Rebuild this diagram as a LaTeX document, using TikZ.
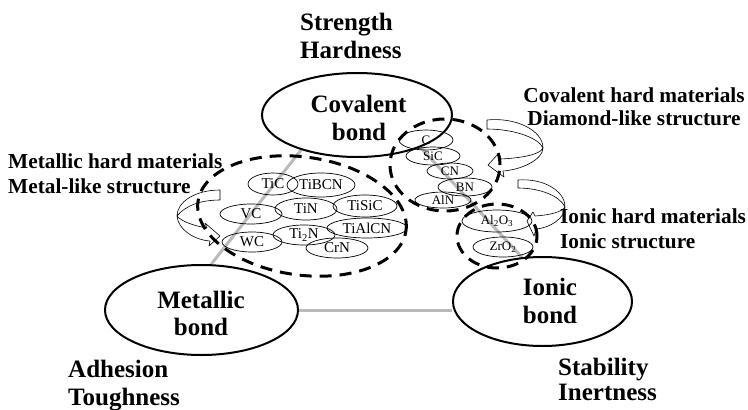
\documentclass[tikz,border=0pt]{standalone}
\usepackage{fontspec}
\setmainfont{Liberation Serif}
\usetikzlibrary{shapes.geometric}
\pgfdeclarelayer{bg}
\pgfsetlayers{bg,main}
\begin{document}
\begin{tikzpicture}[x=1pt,y=-1pt,
  bond/.style={ellipse, draw, line width=2pt, inner sep=0pt},
  chem/.style={ellipse, draw, line width=0.7pt, inner sep=0pt, font=\fontsize{15}{15}\selectfont},
  chems/.style={chem, font=\fontsize{13}{13}\selectfont},
  grouping/.style={ellipse, draw, line width=3pt, dash pattern=on 12pt off 8pt, inner sep=0pt},
  link/.style={draw=black!27, line width=3pt},
  turn/.style={draw, fill=white, line width=0.6pt, line join=round},
  prop/.style={font=\bfseries\fontsize{25}{28}\selectfont, inner sep=0pt},
  cls/.style={font=\bfseries\fontsize{21.3}{24}\selectfont, inner sep=0pt}]

\useasboundingbox (0,0) rectangle (748,410);

% bond ellipses
\node[bond, minimum width=190pt, minimum height=84pt] (cov) at (357,115) {};
\node[bond, minimum width=193pt, minimum height=90pt] (met) at (201.5,310) {};
\node[bond, minimum width=179pt, minimum height=89pt] (ion) at (542.5,301.5) {};

% curved arrows
\path[turn] (487,120) .. controls (515,117) and (543,130) .. (543,148)
  .. controls (543,160) and (520,170) .. (503,171) -- (504,177) -- (488,165)
  -- (499,153) -- (501,159) .. controls (520,158) and (540,155) .. (543,148)
  .. controls (538,137) and (512,129) .. (487,129) -- cycle;
\path[turn] (518,180) .. controls (542,178) and (565,190) .. (565,207)
  .. controls (565,218) and (550,228) .. (536,229) -- (534,236) -- (527,221)
  -- (533,212) -- (535,216) .. controls (550,215) and (562,212) .. (565,207)
  .. controls (560,196) and (540,188) .. (518,188) -- cycle;
\path[turn] (220,190) .. controls (195,190) and (177,202) .. (177,216)
  .. controls (178,230) and (195,240) .. (210,241) -- (209,246) -- (220,236)
  -- (205,223) -- (207,228) .. controls (195,226) and (182,222) .. (177,216)
  .. controls (185,206) and (200,200) .. (220,200) -- cycle;

% metallic hard materials
\node[chem, minimum width=50pt, minimum height=22pt] (tic) at (273,184) {TiC};
\node[chem, minimum width=68pt, minimum height=24pt] (tibcn) at (321,185) {TiBCN};
\node[chem, minimum width=62pt, minimum height=20pt] (vc) at (251,214) {VC};
\node[chem, minimum width=62pt, minimum height=22pt] (tin) at (306,209) {TiN};
\node[chem, minimum width=64pt, minimum height=22pt] (tisic) at (365,206) {TiSiC};
\node[chem, minimum width=60pt, minimum height=20pt] (wc) at (252,242) {WC};
\node[chem, minimum width=62pt, minimum height=20pt] (ti2n) at (304,235) {Ti\textsubscript{2}N};
\node[chem, minimum width=80pt, minimum height=20pt] (tialcn) at (367,228) {TiAlCN};
\node[chem, minimum width=62pt, minimum height=20pt] (crn) at (337,248) {CrN};

% covalent hard materials
\node[chems, minimum width=54pt, minimum height=20pt] (c) at (426,140) {C};
\node[chems, minimum width=54pt, minimum height=18pt] (sic) at (433,156) {SiC};
\node[chems, minimum width=46pt, minimum height=16pt] (cn) at (450,171) {CN};
\node[chems, minimum width=54pt, minimum height=18pt] (bn) at (465,187) {BN};
\node[chems, minimum width=56pt, minimum height=16pt] (aln) at (443,200) {AlN};

% ionic hard materials
\node[chems, minimum width=70pt, minimum height=22pt] (al2o3) at (497,221) {Al\textsubscript{2}O\textsubscript{3}};
\node[chems, minimum width=60pt, minimum height=20pt] (zro2) at (503,247) {ZrO\textsubscript{2}};

% dashed groups
\node[grouping, minimum width=210pt, minimum height=118pt, rotate=-8] (gmet) at (302,216) {};
\node[grouping, minimum width=110pt, minimum height=92pt] (gcov) at (445,165) {};
\node[grouping, minimum width=80pt, minimum height=64pt] (gion) at (497,236) {};

% connectors
\begin{pgfonlayer}{bg}
\draw[link] (cov.212) -- (met.78);
\draw[link] (cov.333) -- (ion.115);
\draw[link] (met.east) -- (met.east -| ion.west);
\end{pgfonlayer}

% bond texts
\node[prop, anchor=base] (covt1) at (358.5,112) {Covalent};
\node[prop, anchor=base] (covt2) at (359,140) {bond};
\node[prop, anchor=base] (mett1) at (201,308) {Metallic};
\node[prop, anchor=base] (mett2) at (201,335) {bond};
\node[prop, anchor=base] (iont1) at (550,295) {Ionic};
\node[prop, anchor=base] (iont2) at (550,323) {bond};

% property labels
\node[prop, anchor=base west] (str) at (300,30) {Strength};
\node[prop, anchor=base west] (hard) at (300,58) {Hardness};
\node[prop, anchor=base west] (adh) at (68,377) {Adhesion};
\node[prop, anchor=base west] (tough) at (68,405) {Toughness};
\node[prop, anchor=base west] (stab) at (558,375) {Stability};
\node[prop, anchor=base west] (inert) at (558,400) {Inertness};

% class labels
\node[cls, anchor=base] (covl1) at (634,102) {Covalent hard materials};
\node[cls, anchor=base] (covl2) at (634,125) {Diamond-like structure};
\node[cls, anchor=base west] (metl1) at (8,168) {Metallic hard materials};
\node[cls, anchor=base west] (metl2) at (8,193) {Metal-like structure};
\node[cls, anchor=base west] (ionl1) at (560,223) {Ionic hard materials};
\node[cls, anchor=base west] (ionl2) at (560,248) {Ionic structure};
\end{tikzpicture}
\end{document}
